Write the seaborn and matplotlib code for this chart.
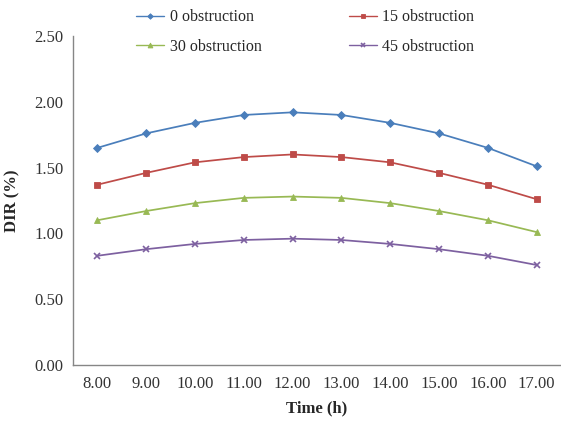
import matplotlib
matplotlib.use("Agg")
import matplotlib.pyplot as plt
import seaborn as sns
import numpy as np
import pandas as pd

times = ["8.00", "9.00", "10.00", "11.00", "12.00", "13.00", "14.00", "15.00", "16.00", "17.00"]
obs0 = [1.65, 1.76, 1.84, 1.90, 1.92, 1.90, 1.84, 1.76, 1.65, 1.51]
obs15 = [1.37, 1.46, 1.54, 1.58, 1.60, 1.58, 1.54, 1.46, 1.37, 1.26]
obs30 = [1.10, 1.17, 1.23, 1.27, 1.28, 1.27, 1.23, 1.17, 1.10, 1.01]
obs45 = [0.83, 0.88, 0.92, 0.95, 0.96, 0.95, 0.92, 0.88, 0.83, 0.76]
series_names = ["0 obstruction", "15 obstruction", "30 obstruction", "45 obstruction"]

sns.set_theme(style="white")
plt.rcParams['font.family'] = ['Liberation Serif', 'DejaVu Serif']

colors = ["#4A7EBB", "#BE4B48", "#98B954", "#7D60A0"]
markers = ["D", "s", "^", "x"]
msizes = [4.0, 5.0, 5.0, 4.5]

fig = plt.figure(figsize=(5.61, 4.25), dpi=100)
ax = fig.add_axes([73/561, 1 - 365/425, 1 - 73/561, (365 - 36)/425])

pos = np.arange(len(times))
handles = {}
for name, vals, c, m, ms in zip(series_names, [obs0, obs15, obs30, obs45], colors, markers, msizes):
    df = pd.DataFrame({"x": pos, "y": vals})
    sns.lineplot(data=df, x="x", y="y", ax=ax, color=c, marker=m, markersize=ms,
                 markeredgecolor=c, markeredgewidth=1.2 if m == "x" else 0.6,
                 linewidth=1.25, label=name, legend=False)
    handles[name] = ax.lines[-1]

ax.set_xlim(-0.5, 9.41)
ax.set_ylim(0, 2.5)
ax.set_yticks(np.arange(0, 2.51, 0.5))
ax.set_yticklabels([f"{v:.2f}" for v in np.arange(0, 2.51, 0.5)])
ax.set_xticks(np.arange(-0.5, 10, 1.0))
ax.set_xticklabels([])
ax.set_xticks(pos, minor=True)
ax.set_xticklabels(times, minor=True)
ax.tick_params(axis="x", which="minor", length=0, labelsize=12, pad=8, colors="#333333")
ax.tick_params(axis="x", which="major", direction="out", length=4, width=1, color="#868686")
ax.tick_params(axis="y", direction="out", length=4, width=1, color="#868686", labelsize=12, pad=3, labelcolor="#333333")

for s in ["top", "right"]:
    ax.spines[s].set_visible(False)
for s in ["left", "bottom"]:
    ax.spines[s].set_color("#868686")
    ax.spines[s].set_linewidth(1)

ax.set_xlabel("Time (h)", fontsize=12, fontweight="bold", labelpad=6)
ax.set_ylabel("DIR (%)", fontsize=12, fontweight="bold", labelpad=10)
ax.set_facecolor("none")

order = ["0 obstruction", "30 obstruction", "15 obstruction", "45 obstruction"]
leg = fig.legend([handles[n] for n in order], order, ncol=2, loc="upper left",
                 bbox_to_anchor=(122/561, 1 + 5/425), frameon=False, fontsize=11.5,
                 handlelength=1.75, handletextpad=0.35, columnspacing=5.45,
                 labelspacing=0.85, markerscale=0.7)
for line in leg.get_lines():
    line.set_linewidth(1.0)

fig.savefig("out.png", dpi=100)
